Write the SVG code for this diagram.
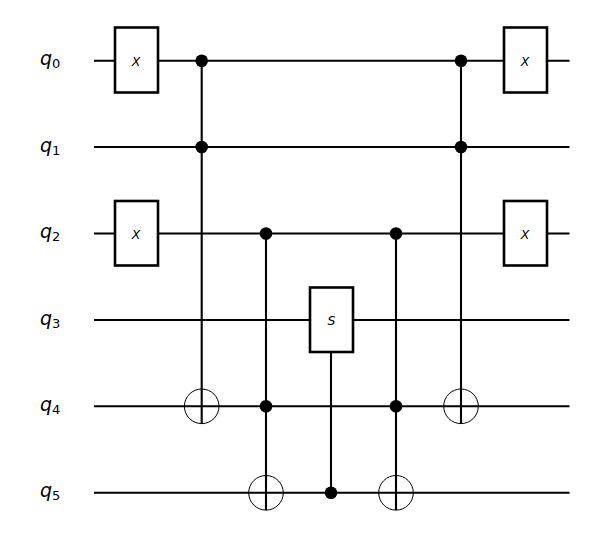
<svg xmlns="http://www.w3.org/2000/svg" width="597" height="554" viewBox="0 0 597 554">
<defs>
<style>
.w{stroke:#000;stroke-width:2.1;fill:none}
.c{fill:#000}
.g{fill:#fff;stroke:#000;stroke-width:2.6}
.t{fill:none;stroke:#000;stroke-width:1}
.q{font-family:"DejaVu Sans",sans-serif;font-style:oblique;font-size:19px;fill:#000}
.s{font-family:"DejaVu Sans",sans-serif;font-size:13px;fill:#000;font-style:normal}
.x{font-family:"DejaVu Sans",sans-serif;font-style:oblique;font-size:12.5px;fill:#000;text-anchor:middle}
</style>
</defs>
<rect width="597" height="554" fill="#fff"/>
<g id="connectors">
<path class="w" d="M94 60.800H569.500M94 147H569.500M94 233.500H569.500M94 320H569.500M94 406.300H569.500M94 492.800H569.500"/>
<path class="w" d="M201.700 60.800V424M266 233.500V510M331 320V492.800M396 233.500V510M461 60.800V424"/>
</g>
<g id="labels">
<text class="q" x="40" y="65">q<tspan class="s" dy="3">0</tspan></text>
<text class="q" x="40" y="152">q<tspan class="s" dy="3">1</tspan></text>
<text class="q" x="40" y="238">q<tspan class="s" dy="3">2</tspan></text>
<text class="q" x="40" y="325">q<tspan class="s" dy="3">3</tspan></text>
<text class="q" x="40" y="411">q<tspan class="s" dy="3">4</tspan></text>
<text class="q" x="40" y="497">q<tspan class="s" dy="3">5</tspan></text>
</g>
<g id="x-q0-a"><rect class="g" x="115" y="27.500" width="43" height="65"/><text class="x" x="136" y="65.500">X</text></g>
<g id="x-q2-a"><rect class="g" x="115" y="201" width="43" height="64.500"/><text class="x" x="136" y="238.500">X</text></g>
<g id="s-q3"><rect class="g" x="310" y="287.500" width="43" height="64.500"/><text class="x" x="331.500" y="325">S</text></g>
<g id="x-q0-b"><rect class="g" x="504" y="27.500" width="43" height="65"/><text class="x" x="525" y="65.500">X</text></g>
<g id="x-q2-b"><rect class="g" x="504" y="201" width="43" height="64.500"/><text class="x" x="525" y="238.500">X</text></g>
<g id="ctrl-1"><circle class="c" cx="201.700" cy="60.800" r="6.300"/><circle class="c" cx="201.700" cy="147" r="6.300"/></g>
<g id="tgt-1"><circle class="t" cx="201.700" cy="406.300" r="17.300"/></g>
<g id="ctrl-2"><circle class="c" cx="266" cy="233.500" r="6.300"/><circle class="c" cx="266" cy="406.300" r="6.300"/></g>
<g id="tgt-2"><circle class="t" cx="266" cy="492.800" r="17.300"/></g>
<g id="ctrl-3"><circle class="c" cx="331" cy="492.800" r="6.300"/></g>
<g id="ctrl-4"><circle class="c" cx="396" cy="233.500" r="6.300"/><circle class="c" cx="396" cy="406.300" r="6.300"/></g>
<g id="tgt-4"><circle class="t" cx="396" cy="492.800" r="17.300"/></g>
<g id="ctrl-5"><circle class="c" cx="461" cy="60.800" r="6.300"/><circle class="c" cx="461" cy="147" r="6.300"/></g>
<g id="tgt-5"><circle class="t" cx="461" cy="406.300" r="17.300"/></g>
</svg>
